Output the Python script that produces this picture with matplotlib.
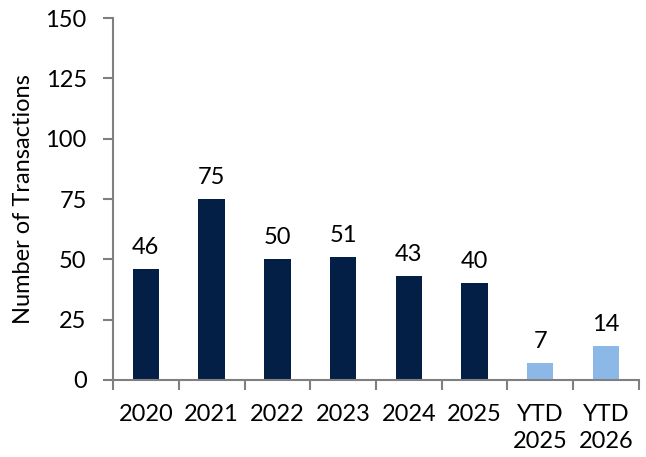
import numpy as np
import matplotlib.pyplot as plt

categories = ['2020', '2021', '2022', '2023', '2024', '2025', 'YTD\n2025', 'YTD\n2026']
values = [46, 75, 50, 51, 43, 40, 7, 14]
ytd = [False, False, False, False, False, False, True, True]

NAVY = '#041f45'
LIGHT = '#8cb8e8'
GREY = '#7f7f7f'

plt.rcParams['font.family'] = ['Lato', 'DejaVu Sans']

fig = plt.figure(figsize=(6.46, 4.57), dpi=100)
ax = fig.add_axes([0.175, 0.1685, 0.814, 0.792])

x = np.arange(len(categories))
colors = [LIGHT if t else NAVY for t in ytd]
bars = ax.bar(x, values, width=0.4, color=colors)

for xi, v in zip(x, values):
    ax.annotate(str(v), (xi, v), textcoords='offset points', xytext=(0, 8),
                ha='center', va='bottom', fontsize=17)

ax.set_xlim(-0.5, len(categories) - 0.5)
ax.set_ylim(0, 150)
ax.set_yticks(np.arange(0, 151, 25))
ax.set_xticks(x)
ax.set_xticklabels(categories, fontsize=17, linespacing=1.35)
ax.set_xticks(np.arange(-0.5, len(categories), 1), minor=True)
ax.tick_params(axis='x', which='major', length=0, pad=17)
ax.tick_params(axis='x', which='minor', length=7, width=1.5, color=GREY, direction='out')
ax.tick_params(axis='y', length=7, width=1.5, color=GREY, labelsize=17, pad=12)

ax.set_ylabel('Number of Transactions', fontsize=17, labelpad=8)

for side in ['top', 'right']:
    ax.spines[side].set_visible(False)
for side in ['left', 'bottom']:
    ax.spines[side].set_color(GREY)
    ax.spines[side].set_linewidth(1.5)

fig.savefig('out.png', dpi=100)
